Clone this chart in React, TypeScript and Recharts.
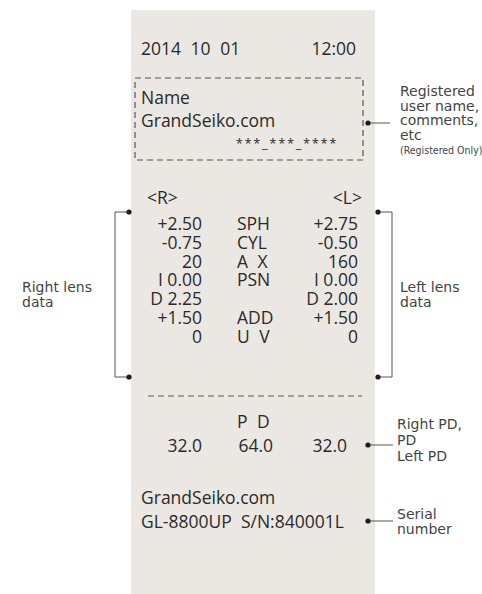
import React from 'react'
import { ComposedChart, XAxis, YAxis, Scatter, ReferenceArea, ReferenceLine } from 'recharts'

// printout content
const headerDate = '2014 10 01'
const headerTime = '12:00'
const userLines = ['Name', 'GrandSeiko.com']
const userCode = '***_***_****'
const eyeTags = ['<R>', '<L>']
const rowNames = ['SPH', 'CYL', 'A X', 'PSN', '', 'ADD', 'U V']
const rightLens = ['+2.50', '-0.75', '20', 'I 0.00', 'D 2.25', '+1.50', '0']
const leftLens = ['+2.75', '-0.50', '160', 'I 0.00', 'D 2.00', '+1.50', '0']
const pdTitle = 'P D'
const pdValues = ['32.0', '64.0', '32.0']
const footerLines = ['GrandSeiko.com', 'GL-8800UP  S/N:840001L']

// callout notes
const userNote = ['Registered', 'user name,', 'comments,', 'etc']
const userNoteSmall = '(Registered Only)'
const rightNote = ['Right lens', 'data']
const leftNote = ['Left lens', 'data']
const pdNote = ['Right PD,', 'PD', 'Left PD']
const serialNote = ['Serial', 'number']

const W = 482
const H = 594
const INK = '#2a2a2a'
const NOTE = '#444'
const LINE = '#555'

type Item = { x: number, y: number, t: string, anchor: string, kind: string }

const items: Item[] = []
const put = (x: number, y: number, t: string, anchor = 'start', kind = 'main') => items.push({ x, y, t, anchor, kind })

put(141, 48, headerDate, 'start', 'wide')
put(356, 48, headerTime, 'end')
userLines.forEach((t, i) => put(141, 97 + i * 23, t))
put(338, 143, userCode, 'end', 'code')
put(147, 197, eyeTags[0])
put(362, 197, eyeTags[1], 'end')
rowNames.forEach((t, i) => {
  const y = 223 + i * 18.8
  put(202, y, rightLens[i], 'end')
  if (t) put(237, y, t, 'start', t.includes(' ') ? 'wide' : 'main')
  put(358, y, leftLens[i], 'end')
})
put(237, 421, pdTitle, 'start', 'wide')
put(202, 445, pdValues[0], 'end')
put(273, 445, pdValues[1], 'end')
put(347, 445, pdValues[2], 'end')
footerLines.forEach((t, i) => put(141, 497 + i * 24, t))

userNote.forEach((t, i) => put(400, 91 + i * 14.5, t, 'start', 'note'))
put(400, 150, userNoteSmall, 'start', 'small')
rightNote.forEach((t, i) => put(22, 287 + i * 15, t, 'start', 'note'))
leftNote.forEach((t, i) => put(400, 287 + i * 15, t, 'start', 'note'))
pdNote.forEach((t, i) => put(397, 424 + i * 16, t, 'start', 'note'))
serialNote.forEach((t, i) => put(397, 514 + i * 15, t, 'start', 'note'))

const dots = [
  { x: 129, y: 212 }, { x: 129, y: 377 },
  { x: 378, y: 212 }, { x: 378, y: 377 },
  { x: 368, y: 123 }, { x: 368, y: 445 }, { x: 368, y: 521 },
]

const segs: [number, number, number, number][] = [
  [115, 212, 129, 212], [115, 212, 115, 377], [115, 377, 129, 377],
  [378, 212, 392, 212], [392, 212, 392, 377], [378, 377, 392, 377],
  [368, 123, 390, 123], [368, 445, 393, 445], [368, 521, 393, 521],
]

function TextShape(props: any) {
  const { cx, cy, payload } = props
  const k = payload.kind
  let family = "'Open Sans', sans-serif"
  let size = 17.5
  let fill = INK
  let spacing = 0
  let words = 0
  if (k === 'wide') words = 5
  if (k === 'code') { size = 13; spacing = 1.6 }
  if (k === 'note') { family = "'DejaVu Sans', sans-serif"; size = 14; fill = NOTE }
  if (k === 'small') { family = "'DejaVu Sans Condensed', 'DejaVu Sans', sans-serif"; size = 10.5; fill = NOTE }
  return (
    <text x={cx} y={cy} textAnchor={payload.anchor} dominantBaseline="central"
      fontFamily={family} fontSize={size} fill={fill} letterSpacing={spacing}
      wordSpacing={words} style={{ whiteSpace: 'pre' }}>
      {payload.t}
    </text>
  )
}

export default function App() {
  return (
    <div style={{ position: 'absolute', left: 0, top: 0, width: W, height: H, background: '#fff' }}>
      <ComposedChart width={W} height={H} margin={{ top: 0, right: 0, bottom: 0, left: 0 }}>
        <XAxis type="number" dataKey="x" domain={[0, W]} allowDataOverflow hide />
        <YAxis type="number" dataKey="y" domain={[0, H]} allowDataOverflow reversed hide />
        <ReferenceArea x1={131} x2={375} y1={10} y2={H} fill="#ebe8e3" fillOpacity={1} stroke="none" ifOverflow="visible" />
        <ReferenceArea x1={135} x2={363} y1={78} y2={160} fill="none" stroke={LINE} strokeWidth={1.2} strokeDasharray="6 4" ifOverflow="visible" />
        <ReferenceLine segment={[{ x: 148, y: 396 }, { x: 362, y: 396 }]} stroke={LINE} strokeWidth={1.2} strokeDasharray="6 4" ifOverflow="visible" />
        {segs.map((s, i) => (
          <ReferenceLine key={i} segment={[{ x: s[0], y: s[1] }, { x: s[2], y: s[3] }]} stroke={LINE} strokeWidth={1} ifOverflow="visible" />
        ))}
        <Scatter data={dots} isAnimationActive={false}
          shape={(p: any) => <circle cx={p.cx} cy={p.cy} r={2.6} fill="#1e1e1e" />} />
        <Scatter data={items} isAnimationActive={false} shape={TextShape} />
      </ComposedChart>
    </div>
  )
}
